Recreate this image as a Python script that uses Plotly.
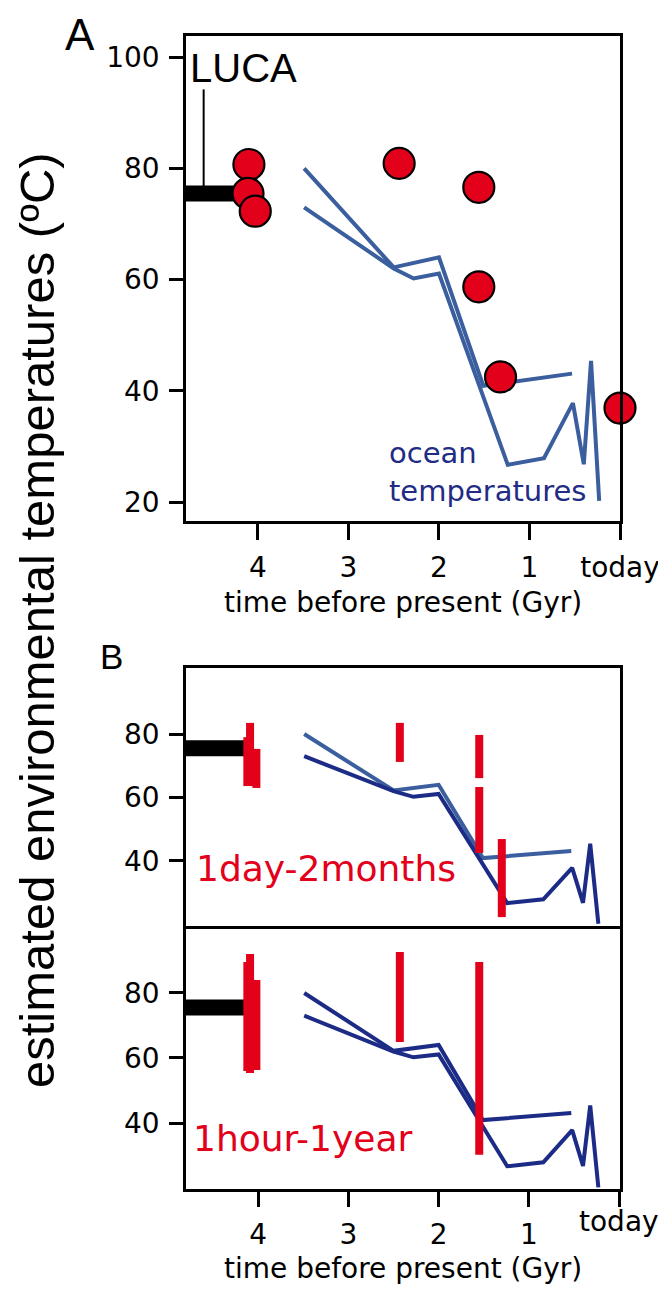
import plotly.graph_objects as go

# ---------------- data ----------------
# Panel A: estimated environmental temperatures (red circles)
point_time = [4.10, 4.11, 4.03, 2.44, 1.56, 1.56, 1.32, 0.0]
point_temp = [80.7, 75.5, 72.3, 80.9, 76.6, 58.7, 42.5, 36.9]

# ocean temperature curves
ocean1_time = [3.49, 2.50, 2.00, 1.51, 0.53]
ocean1_temp = [80.0, 62.2, 64.0, 40.9, 43.1]
ocean2_time = [3.49, 2.50, 2.28, 2.00, 1.24, 0.84, 0.52, 0.40, 0.32, 0.23]
ocean2_temp = [73.0, 62.0, 60.2, 61.1, 26.7, 27.9, 37.8, 26.8, 45.4, 20.2]

# LUCA estimate
luca_time = [4.80, 4.14]
luca_temp = 75.5
luca_marker_time = 4.60
luca_marker_top = 94.2

# Panel B: ranges, 1 day - 2 months
range1_time = [4.12, 4.09, 4.02, 2.43, 1.55, 1.55, 1.30]
range1_low = [63.6, 63.6, 63.0, 71.2, 66.1, 42.5, 22.3]
range1_high = [79.0, 83.5, 75.3, 83.5, 79.7, 63.3, 46.9]

# Panel B: ranges, 1 hour - 1 year
range2_time = [4.12, 4.09, 4.02, 2.43, 1.55]
range2_low = [56.0, 55.4, 56.3, 64.9, 30.2]
range2_high = [89.5, 92.0, 84.0, 92.6, 89.5]

xtick_vals = [4, 3, 2, 1, 0]
xtick_text_A = ["4", "3", "2", "1", "today"]
xtick_text_B = ["4", "3", "2", "1", ""]
ytick_A = [20, 40, 60, 80, 100]
ytick_B = [40, 60, 80]

# ---------------- style ----------------
RED = "rgb(226,0,26)"
LIGHT = "rgb(58,94,158)"
NAVY = "rgb(28,44,134)"
OCEAN_TXT = "rgb(34,44,132)"
FONT = "DejaVu Sans"
OFF = 8                      # page body margin
W, H = 666 - OFF, 1289 - OFF


def px(x):
    return (x - OFF) / W


def py(y):
    return 1 - (y - OFF) / H


def segs(xs, lows, highs):
    X, Y = [], []
    for x, lo, hi in zip(xs, lows, highs):
        X += [x, x, None]
        Y += [lo, hi, None]
    return X, Y


fig = go.Figure()

# ----- Panel A -----
fig.add_trace(go.Scatter(x=ocean1_time, y=ocean1_temp, mode="lines",
                         line=dict(color=LIGHT, width=4), xaxis="x", yaxis="y"))
fig.add_trace(go.Scatter(x=ocean2_time, y=ocean2_temp, mode="lines",
                         line=dict(color=LIGHT, width=4), xaxis="x", yaxis="y"))
fig.add_trace(go.Scatter(x=luca_time, y=[luca_temp, luca_temp], mode="lines",
                         line=dict(color="black", width=16), xaxis="x", yaxis="y"))
fig.add_trace(go.Scatter(x=[luca_marker_time, luca_marker_time], y=[luca_temp, luca_marker_top],
                         mode="lines", line=dict(color="black", width=2), xaxis="x", yaxis="y"))
fig.add_trace(go.Scatter(x=point_time, y=point_temp, mode="markers", cliponaxis=False,
                         marker=dict(size=31, color=RED, line=dict(color="black", width=2.2)),
                         xaxis="x", yaxis="y"))

# ----- Panel B top -----
fig.add_trace(go.Scatter(x=ocean1_time, y=ocean1_temp, mode="lines",
                         line=dict(color=LIGHT, width=4), xaxis="x2", yaxis="y2"))
fig.add_trace(go.Scatter(x=ocean2_time, y=ocean2_temp, mode="lines",
                         line=dict(color=NAVY, width=4), xaxis="x2", yaxis="y2"))
fig.add_trace(go.Scatter(x=luca_time, y=[luca_temp, luca_temp], mode="lines",
                         line=dict(color="black", width=16), xaxis="x2", yaxis="y2"))
rx, ry = segs(range1_time, range1_low, range1_high)
fig.add_trace(go.Scatter(x=rx, y=ry, mode="lines", line=dict(color=RED, width=8),
                         xaxis="x2", yaxis="y2"))

# ----- Panel B bottom -----
fig.add_trace(go.Scatter(x=ocean1_time, y=ocean1_temp, mode="lines",
                         line=dict(color=NAVY, width=4), xaxis="x3", yaxis="y3"))
fig.add_trace(go.Scatter(x=ocean2_time, y=ocean2_temp, mode="lines",
                         line=dict(color=NAVY, width=4), xaxis="x3", yaxis="y3"))
fig.add_trace(go.Scatter(x=luca_time, y=[luca_temp, luca_temp], mode="lines",
                         line=dict(color="black", width=16), xaxis="x3", yaxis="y3"))
rx, ry = segs(range2_time, range2_low, range2_high)
fig.add_trace(go.Scatter(x=rx, y=ry, mode="lines", line=dict(color=RED, width=8),
                         xaxis="x3", yaxis="y3"))

XDOM = [px(186), px(620)]
axis_common = dict(showline=True, mirror=True, linecolor="black", linewidth=2.5,
                   showgrid=False, zeroline=False, ticks="outside", tickwidth=2.5,
                   automargin=False, tickcolor="black",
                   tickfont=dict(family=FONT, size=28, color="black"))

fig.update_layout(
    template="none",
    width=W, height=H, margin=dict(l=0, r=0, t=0, b=0, pad=0),
    paper_bgcolor="white", plot_bgcolor="white", showlegend=False,
    xaxis=dict(axis_common, domain=XDOM, range=[4.795, 0], anchor="y",
               tickvals=xtick_vals, ticktext=xtick_text_A, ticklen=16,
               ticklabelstandoff=4),
    yaxis=dict(axis_common, domain=[py(521), py(36)], range=[16.6, 103.8], anchor="x",
               tickvals=ytick_A, ticklen=14, ticklabelstandoff=4),
    xaxis2=dict(axis_common, domain=XDOM, range=[4.8, -0.01], anchor="y2",
                ticks="", showticklabels=False),
    yaxis2=dict(axis_common, domain=[py(926), py(668)], range=[19.5, 100.8], anchor="x2",
                tickvals=ytick_B, ticklen=14, ticklabelstandoff=4),
    xaxis3=dict(axis_common, domain=XDOM, range=[4.8, -0.01], anchor="y3",
                mirror=False, tickvals=xtick_vals, ticktext=xtick_text_B, ticklen=15,
                ticklabelstandoff=4),
    yaxis3=dict(axis_common, domain=[py(1189), py(926)], range=[19.7, 100.6], anchor="x3",
                tickvals=ytick_B, ticklen=14, ticklabelstandoff=4),
)

ann = []


def txt(text, x, y, size, color="black", family=FONT, xanchor="center", yanchor="middle",
        angle=0, align="center"):
    ann.append(dict(text=text, x=x, y=y, xref="paper", yref="paper", showarrow=False,
                    xanchor=xanchor, yanchor=yanchor, textangle=angle, align=align,
                    font=dict(family=family, size=size, color=color)))


txt("A", px(80), 1.0, 44, family="Liberation Sans", yanchor="top")
txt("B", px(111), py(656), 35, family="Liberation Sans")
txt("LUCA", px(188), py(68), 40, family="Liberation Sans", xanchor="left")
txt("ocean<br>temperatures", px(387), py(472), 29, color=OCEAN_TXT, xanchor="left",
    align="left")
txt("time before present (Gyr)", px(403), py(602), 28)
txt("time before present (Gyr)", px(403), py(1268), 28)
txt("today", px(619), py(1221), 28)
txt("1day-2months", px(194), py(868), 36, color=RED, xanchor="left")
txt("1hour-1year", px(191), py(1138), 36, color=RED, xanchor="left")
txt("estimated environmental temperatures (ºC)", px(37), py(620), 49,
    family="Liberation Sans", angle=-90)

fig.update_layout(annotations=ann)
fig.write_html("out.html")
